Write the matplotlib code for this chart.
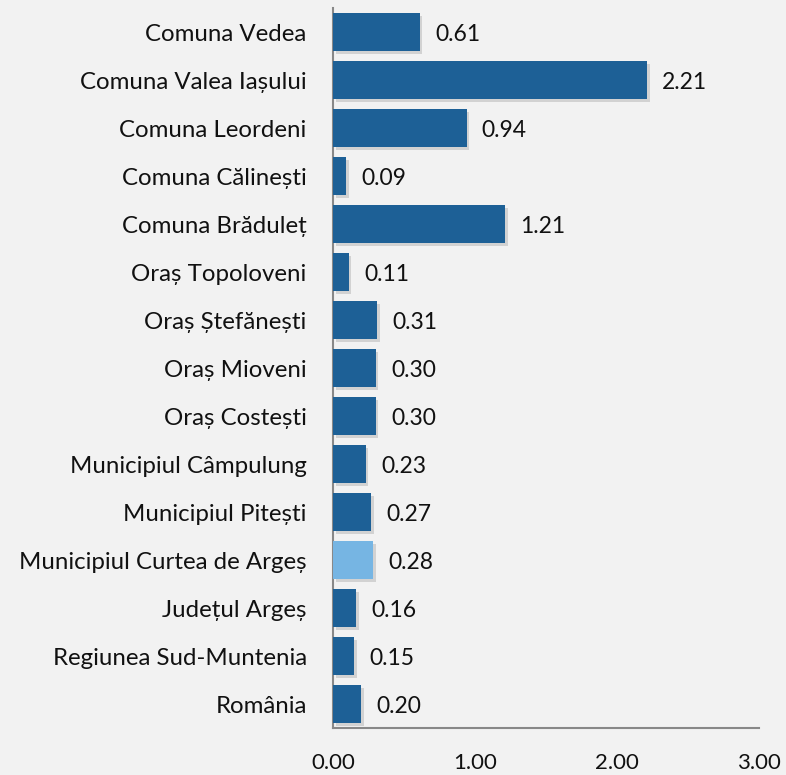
import matplotlib.pyplot as plt
import matplotlib.patheffects as pe

# data (top to bottom)
categories = [
    "Comuna Vedea",
    "Comuna Valea Iașului",
    "Comuna Leordeni",
    "Comuna Călinești",
    "Comuna Brăduleț",
    "Oraș Topoloveni",
    "Oraș Ștefănești",
    "Oraș Mioveni",
    "Oraș Costești",
    "Municipiul Câmpulung",
    "Municipiul Pitești",
    "Municipiul Curtea de Argeș",
    "Județul Argeș",
    "Regiunea Sud-Muntenia",
    "România",
]
values = [0.61, 2.21, 0.94, 0.09, 1.21, 0.11, 0.31, 0.30, 0.30, 0.23, 0.27, 0.28, 0.16, 0.15, 0.20]
highlight = "Municipiul Curtea de Argeș"

bg = "#f2f2f2"
dark = "#1d6096"
light = "#76b5e3"

plt.rcParams["font.family"] = ["Lato", "DejaVu Sans"]

fig = plt.figure(figsize=(7.86, 7.75), dpi=100, facecolor=bg)
ax = fig.add_axes([0.4237, 0.0606, 0.542, 0.929])
ax.set_facecolor(bg)

n = len(categories)
ypos = list(range(n))[::-1]
colors = [light if c == highlight else dark for c in categories]

bars = ax.barh(ypos, values, height=0.8, color=colors, zorder=3)
for b in bars:
    b.set_path_effects([
        pe.SimplePatchShadow(offset=(2, -2), shadow_rgbFace="#999999", alpha=0.35),
        pe.Normal(),
    ])

for y, v in zip(ypos, values):
    ax.annotate(f"{v:.2f}", (v, y), xytext=(11, -2), textcoords="offset points",
                va="center", ha="left", fontsize=16.5, color="#111111")

ax.set_xlim(0, 3)
ax.set_ylim(-0.5, n - 0.5)
ax.set_xticks([0, 1, 2, 3])
ax.set_xticklabels(["0.00", "1.00", "2.00", "3.00"])
ax.set_yticks(ypos)
ax.set_yticklabels(categories)
ax.tick_params(axis="y", length=0, pad=19, labelsize=17.3, labelcolor="#111111")
ax.tick_params(axis="x", length=0, pad=18, labelsize=16, labelcolor="#111111")

for s in ["top", "right"]:
    ax.spines[s].set_visible(False)
for s in ["left", "bottom"]:
    ax.spines[s].set_color("#888888")
    ax.spines[s].set_linewidth(1.5)

fig.savefig("out.png", dpi=100, facecolor=bg)
